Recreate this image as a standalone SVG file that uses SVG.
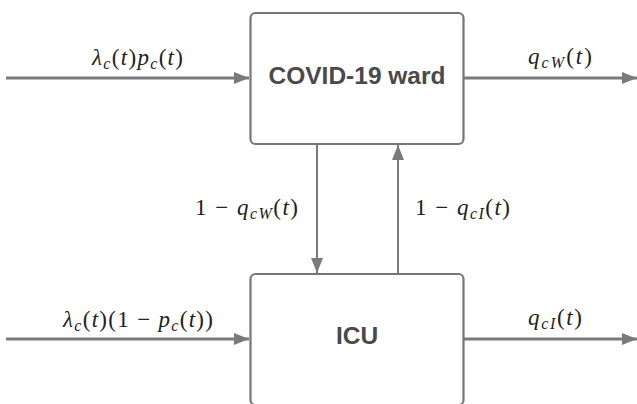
<svg xmlns="http://www.w3.org/2000/svg" width="637" height="404" viewBox="0 0 637 404">
  <style>
    .box { fill: #ffffff; stroke: #767676; stroke-width: 2.2; }
    .name { font-family: "Liberation Sans", Arial, sans-serif; font-weight: bold; font-size: 24.5px; fill: #4a4a4a; text-anchor: middle; }
    .flow { stroke: #7a7a7a; fill: none; }
    .thick { stroke-width: 3; }
    .thin { stroke-width: 2; }
    .math { font-family: "Liberation Serif", "Times New Roman", serif; font-size: 23px; fill: #222; }
    .i { font-style: italic; }
    .sub { font-size: 16px; font-style: italic; }
  </style>
  <defs>
    <marker id="head" markerUnits="userSpaceOnUse" markerWidth="16" markerHeight="12" refX="15" refY="6" orient="auto">
      <path d="M0,0 L15,6 L0,12 Z" fill="#7a7a7a"/>
    </marker>
  </defs>

  <g id="covid-ward">
    <rect class="box" x="250.5" y="13" width="213" height="131" rx="5"/>
    <text class="name" x="357" y="84">COVID-19 ward</text>
  </g>

  <g id="icu">
    <rect class="box" x="250.5" y="274" width="213" height="131" rx="5"/>
    <text class="name" x="357" y="344">ICU</text>
  </g>

  <g id="connectors">
    <line class="flow thick" x1="6" y1="78" x2="249" y2="78" marker-end="url(#head)"/>
    <line class="flow thick" x1="464" y1="78" x2="637" y2="78" marker-end="url(#head)"/>
    <line class="flow thin" x1="317" y1="145" x2="317" y2="273" marker-end="url(#head)"/>
    <line class="flow thin" x1="398" y1="273" x2="398" y2="145" marker-end="url(#head)"/>
    <line class="flow thick" x1="6" y1="339" x2="249" y2="339" marker-end="url(#head)"/>
    <line class="flow thick" x1="464" y1="339" x2="637" y2="339" marker-end="url(#head)"/>
  </g>

  <g id="labels">
    <text class="math" x="92" y="65" textLength="91" lengthAdjust="spacing"><tspan class="i">λ</tspan><tspan class="sub" dy="4">c</tspan><tspan dy="-4">(</tspan><tspan class="i">t</tspan>)<tspan class="i">p</tspan><tspan class="sub" dy="4">c</tspan><tspan dy="-4">(</tspan><tspan class="i">t</tspan>)</text>
    <text class="math" x="528" y="64" textLength="64" lengthAdjust="spacing"><tspan class="i">q</tspan><tspan class="sub" dy="4">cW</tspan><tspan dy="-4">(</tspan><tspan class="i">t</tspan>)</text>
    <text class="math" x="195" y="215" textLength="103" lengthAdjust="spacing">1 − <tspan class="i">q</tspan><tspan class="sub" dy="4">cW</tspan><tspan dy="-4">(</tspan><tspan class="i">t</tspan>)</text>
    <text class="math" x="415" y="215" textLength="95" lengthAdjust="spacing">1 − <tspan class="i">q</tspan><tspan class="sub" dy="4">cI</tspan><tspan dy="-4">(</tspan><tspan class="i">t</tspan>)</text>
    <text class="math" x="63" y="327" textLength="150" lengthAdjust="spacing"><tspan class="i">λ</tspan><tspan class="sub" dy="4">c</tspan><tspan dy="-4">(</tspan><tspan class="i">t</tspan>)(1 − <tspan class="i">p</tspan><tspan class="sub" dy="4">c</tspan><tspan dy="-4">(</tspan><tspan class="i">t</tspan>))</text>
    <text class="math" x="528" y="325" textLength="54" lengthAdjust="spacing"><tspan class="i">q</tspan><tspan class="sub" dy="4">cI</tspan><tspan dy="-4">(</tspan><tspan class="i">t</tspan>)</text>
  </g>
</svg>
